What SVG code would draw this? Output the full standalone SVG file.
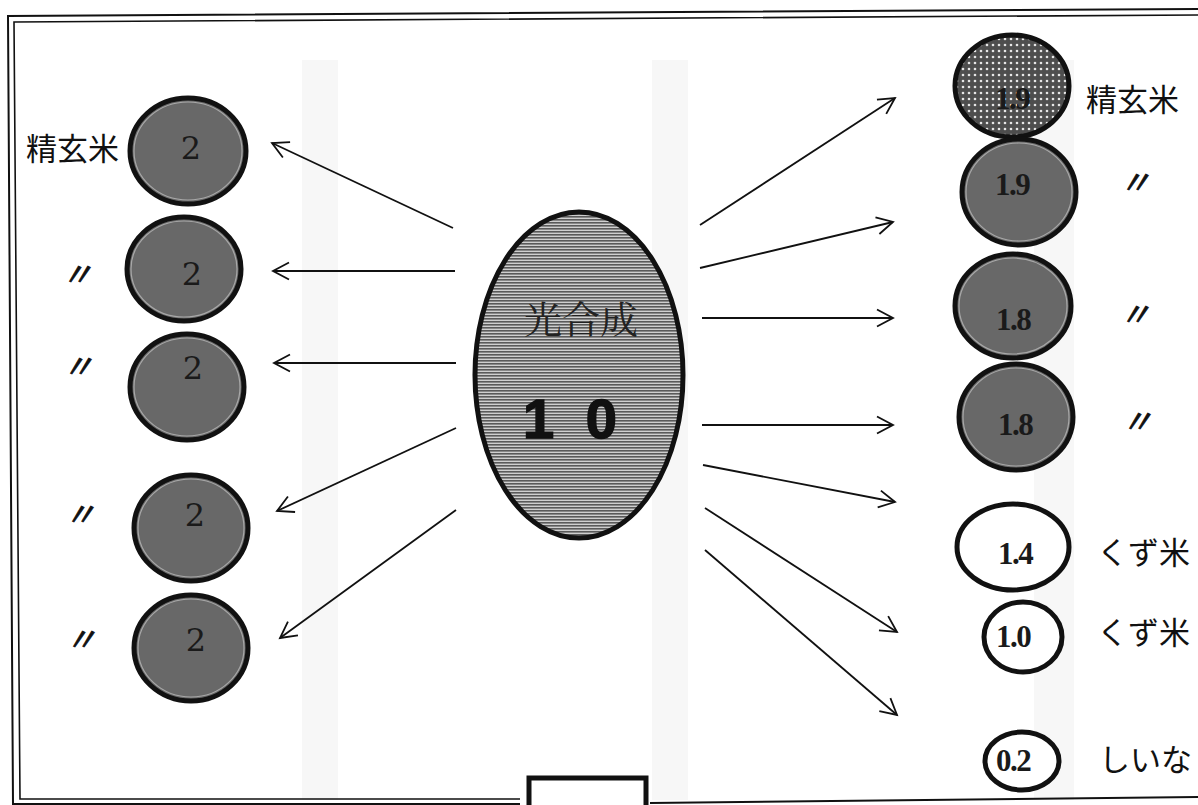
<svg xmlns="http://www.w3.org/2000/svg" width="1198" height="805" viewBox="0 0 1198 805">
<style>
.frame{fill:none;stroke:#111;}
.dark{fill:#686868;stroke:#111;stroke-width:5;}
.hl{fill:none;stroke:#a8a8a8;stroke-width:1.2;}
.open{fill:#fff;stroke:#111;stroke-width:5;}
.num2{font-family:"DejaVu Serif","Liberation Serif",serif;font-size:32px;fill:#1a1a1a;text-anchor:middle;}
.numR{font-family:"Liberation Serif",serif;font-size:31px;font-weight:bold;fill:#1a1a1a;text-anchor:middle;letter-spacing:-1.5px;}
.jp{font-family:"Noto Sans CJK JP","Noto Sans CJK SC",sans-serif;font-size:31px;fill:#111;}
.ditto{font-family:"Noto Sans CJK JP",sans-serif;font-size:32px;fill:#111;stroke:#111;stroke-width:0.8;font-style:italic;text-anchor:middle;}
.conn line{stroke:#111;stroke-width:1.8;marker-end:url(#ah);}
.band{fill:#efefef;opacity:0.5;}
</style>
<defs>
<marker id="ah" markerUnits="userSpaceOnUse" markerWidth="40" markerHeight="40" viewBox="-20 -20 40 40" refX="0" refY="0" orient="auto">
<path d="M-16,-8.5 L0,0 L-16,8.5" fill="none" stroke="#111" stroke-width="1.8"/>
</marker>
<pattern id="hatch" width="6" height="3" patternUnits="userSpaceOnUse">
<rect width="6" height="3" fill="#cfcfcf"/>
<rect width="6" height="1.6" fill="#5a5a5a"/>
</pattern>
<pattern id="dots" width="6" height="6" patternUnits="userSpaceOnUse">
<rect width="6" height="6" fill="#4e4e4e"/>
<circle cx="3" cy="3" r="1.3" fill="#e6e6e6"/>
</pattern>
</defs>
<rect width="1198" height="805" fill="#fff"/>
<g id="ghost">
<rect class="band" x="302" y="60" width="36" height="740"/>
<rect class="band" x="652" y="60" width="36" height="740"/>
<rect class="band" x="1034" y="60" width="40" height="740"/>
</g>
<g id="frame">
<polyline class="frame" stroke-width="2" points="1198,9 8,16 13,804 520,804"/>
<polyline class="frame" stroke-width="1.6" points="1198,15 14,22 20,799 520,799"/>
<polyline class="frame" stroke-width="2" points="650,803 1198,797"/>
<rect x="529" y="778" width="117" height="40" fill="#fff" stroke="#111" stroke-width="5"/>
</g>
<g class="conn" id="connectors">
<line x1="453" y1="228" x2="272" y2="143"/>
<line x1="455" y1="271" x2="273" y2="271"/>
<line x1="456" y1="363" x2="274" y2="363"/>
<line x1="456" y1="428" x2="277" y2="511"/>
<line x1="456" y1="510" x2="280" y2="638"/>
<line x1="700" y1="225" x2="895" y2="98"/>
<line x1="700" y1="268" x2="893" y2="222"/>
<line x1="702" y1="318" x2="893" y2="318"/>
<line x1="702" y1="425" x2="893" y2="425"/>
<line x1="703" y1="465" x2="895" y2="502"/>
<line x1="705" y1="508" x2="897" y2="632"/>
<line x1="705" y1="550" x2="897" y2="715"/>
</g>
<g id="center">
<ellipse cx="579" cy="375" rx="104" ry="163" fill="url(#hatch)" stroke="#111" stroke-width="5"/>
<text x="581" y="333" font-family="'Noto Serif CJK JP','Noto Sans CJK JP',serif" font-size="38" fill="#222" text-anchor="middle">光合成</text>
<text x="574" y="438" font-family="'Liberation Sans',Arial,sans-serif" font-size="56" font-weight="bold" fill="#111" stroke="#111" stroke-width="1.5" text-anchor="middle" letter-spacing="8">1 0</text>
</g>
<g id="L1">
<ellipse class="dark" cx="188" cy="151" rx="58" ry="53"/>
<ellipse class="hl" cx="188" cy="151" rx="54" ry="49"/>
<text class="num2" x="191" y="159">2</text>
<text class="jp" x="26" y="160">精玄米</text>
</g>
<g id="L2">
<ellipse class="dark" cx="184" cy="269" rx="57" ry="52"/>
<ellipse class="hl" cx="184" cy="269" rx="53" ry="48"/>
<text class="num2" x="192" y="285">2</text>
<text class="ditto" x="77" y="286">〃</text>
</g>
<g id="L3">
<ellipse class="dark" cx="187" cy="387" rx="57" ry="53"/>
<ellipse class="hl" cx="187" cy="387" rx="53" ry="49"/>
<text class="num2" x="193" y="379">2</text>
<text class="ditto" x="78" y="378">〃</text>
</g>
<g id="L4">
<ellipse class="dark" cx="191" cy="528" rx="57" ry="53"/>
<ellipse class="hl" cx="191" cy="528" rx="53" ry="49"/>
<text class="num2" x="195" y="526">2</text>
<text class="ditto" x="80" y="526">〃</text>
</g>
<g id="L5">
<ellipse class="dark" cx="191" cy="648" rx="57" ry="53"/>
<ellipse class="hl" cx="191" cy="648" rx="53" ry="49"/>
<text class="num2" x="196" y="651">2</text>
<text class="ditto" x="81" y="651">〃</text>
</g>
<g id="R1">
<ellipse cx="1012" cy="86" rx="57" ry="51" fill="url(#dots)" stroke="#111" stroke-width="5"/>
<text class="numR" x="1012" y="109">1.9</text>
<text class="jp" x="1086" y="111">精玄米</text>
</g>
<g id="R2">
<ellipse class="dark" cx="1019" cy="192" rx="57" ry="53"/>
<ellipse class="hl" cx="1019" cy="192" rx="53" ry="49"/>
<text class="numR" x="1012" y="195">1.9</text>
<text class="ditto" x="1135" y="194">〃</text>
</g>
<g id="R3">
<ellipse class="dark" cx="1013" cy="306" rx="58" ry="52"/>
<ellipse class="hl" cx="1013" cy="306" rx="54" ry="48"/>
<text class="numR" x="1013" y="330">1.8</text>
<text class="ditto" x="1135" y="326">〃</text>
</g>
<g id="R4">
<ellipse class="dark" cx="1016" cy="417" rx="57" ry="53"/>
<ellipse class="hl" cx="1016" cy="417" rx="53" ry="49"/>
<text class="numR" x="1015" y="435">1.8</text>
<text class="ditto" x="1137" y="433">〃</text>
</g>
<g id="R5">
<ellipse class="open" cx="1013" cy="547" rx="56" ry="43"/>
<text class="numR" x="1015" y="564">1.4</text>
<text class="jp" x="1097" y="564">くず米</text>
</g>
<g id="R6">
<ellipse class="open" cx="1023" cy="637" rx="39" ry="35"/>
<text class="numR" x="1013" y="647">1.0</text>
<text class="jp" x="1097" y="644">くず米</text>
</g>
<g id="R7">
<ellipse class="open" cx="1022" cy="761" rx="37" ry="29"/>
<text class="numR" x="1013" y="771">0.2</text>
<text class="jp" x="1099" y="771">しいな</text>
</g>
</svg>
